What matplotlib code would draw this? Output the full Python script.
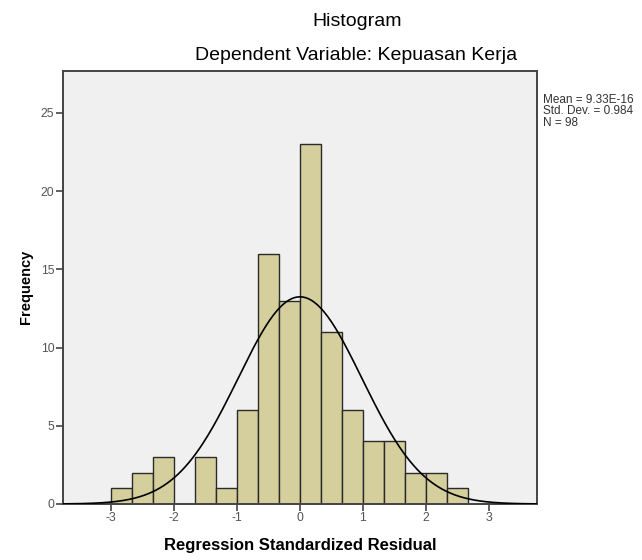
import matplotlib.pyplot as plt
import numpy as np

# SPSS histogram of regression standardized residuals
bin_start = -3.0
bin_width = 1 / 3
counts = [1, 2, 3, 0, 3, 1, 6, 16, 13, 23, 11, 6, 4, 4, 2, 2, 1]
mean = 9.33e-16
std_dev = 0.984
n_obs = 98

title = "Histogram"
subtitle = "Dependent Variable: Kepuasan Kerja"
x_label = "Regression Standardized Residual"
y_label = "Frequency"
x_ticks = [-3, -2, -1, 0, 1, 2, 3]
y_ticks = [0, 5, 10, 15, 20, 25]
stats = ["Mean = 9.33E-16", "Std. Dev. = 0.984", "N = 98"]

plt.rcParams["font.family"] = ["Liberation Sans", "DejaVu Sans"]
plt.rcParams["axes.unicode_minus"] = False

fig = plt.figure(figsize=(6.42, 5.6), dpi=100)
ax = fig.add_axes([62.7 / 642, 56 / 560, 474.6 / 642, 433.3 / 560])
ax.set_facecolor("#f0f0f0")

left_edges = bin_start + bin_width * np.arange(len(counts))
ax.bar(left_edges, counts, width=bin_width, align="edge",
       color="#d4cf9c", edgecolor="#2a2a2a", linewidth=1.0, zorder=2)

# normal curve scaled to counts
xs = np.linspace(-3.77, 3.77, 400)
pdf = np.exp(-0.5 * ((xs - mean) / std_dev) ** 2) / (std_dev * np.sqrt(2 * np.pi))
ax.plot(xs, n_obs * bin_width * pdf, color="black", linewidth=1.2, zorder=3)

ax.set_xlim(-3.77, 3.77)
ax.set_ylim(0, 27.7)
ax.set_xticks(x_ticks)
ax.set_yticks(y_ticks)
ax.tick_params(direction="out", length=5, width=1.2, color="#444444",
               labelcolor="#555555", labelsize=8.8, pad=1)

for sp in ax.spines.values():
    sp.set_color("#444444")
    sp.set_linewidth(1.4)

ax.set_xlabel(x_label, fontsize=12, fontweight="bold")
ax.set_ylabel(y_label, fontsize=10.5, fontweight="bold")
ax.xaxis.set_label_coords(0.5, -0.078)
ax.yaxis.set_label_coords(-0.062, 0.5)

fig.text(357 / 642, 1 - 21 / 560, title, ha="center", va="center", fontsize=14)
fig.text(356 / 642, 1 - 55 / 560, subtitle, ha="center", va="center", fontsize=14)

for i, line in enumerate(stats):
    fig.text(543 / 642, 1 - (100 + i * 11.5) / 560, line, ha="left", va="center",
             fontsize=8.5, color="#333333")

fig.savefig("out.png", dpi=100)
